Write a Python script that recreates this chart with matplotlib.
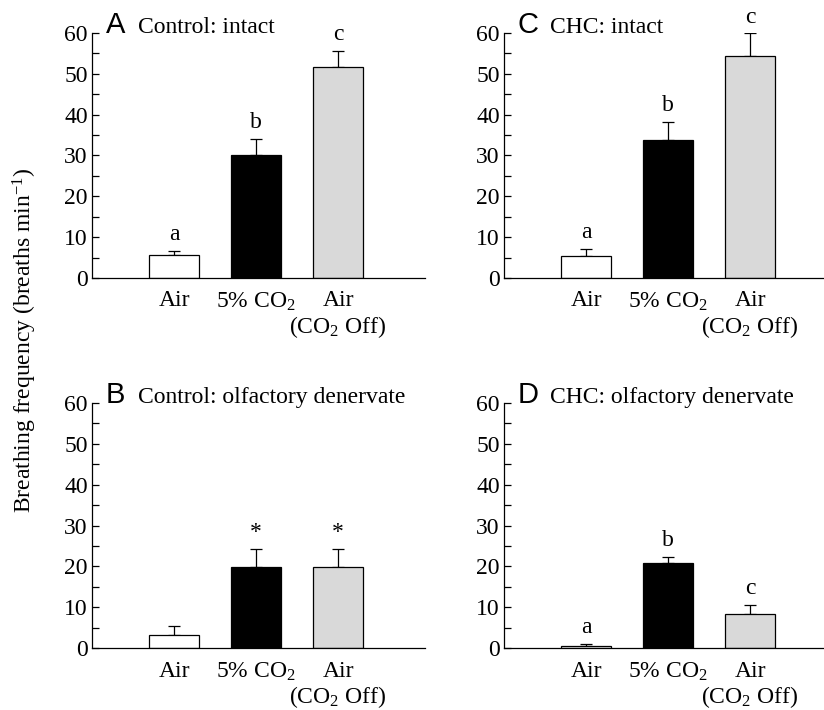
import numpy as np
import matplotlib
matplotlib.use('Agg')
import matplotlib.pyplot as plt

plt.rcParams['font.family'] = ['Liberation Serif', 'DejaVu Serif']
plt.rcParams['mathtext.fontset'] = 'custom'
plt.rcParams['mathtext.rm'] = 'Liberation Serif'
plt.rcParams['mathtext.it'] = 'Liberation Serif:italic'

##conditions on the x axis
conditions = ['Air', '5% CO$_2$', 'Air\n(CO$_2$ Off)']
bar_colors = ['white', 'black', '#d9d9d9']

##mean breathing frequency and SEM (upper only) per panel
a_mean = [5.7, 30.1, 51.7]
a_err = [1.0, 4.0, 4.0]
a_marks = ['a', 'b', 'c']

b_mean = [3.3, 19.9, 19.9]
b_err = [2.0, 4.4, 4.4]
b_marks = ['', '*', '*']

c_mean = [5.4, 33.7, 54.3]
c_err = [1.7, 4.6, 5.6]
c_marks = ['a', 'b', 'c']

d_mean = [0.6, 20.8, 8.4]
d_err = [0.4, 1.6, 2.2]
d_marks = ['a', 'b', 'c']

panels = [
    ('A', 'Control: intact', a_mean, a_err, a_marks, [0.1117, 0.6085, 0.404, 0.345]),
    ('B', 'Control: olfactory denervate', b_mean, b_err, b_marks, [0.1117, 0.0873, 0.404, 0.345]),
    ('C', 'CHC: intact', c_mean, c_err, c_marks, [0.6117, 0.6085, 0.404, 0.345]),
    ('D', 'CHC: olfactory denervate', d_mean, d_err, d_marks, [0.6117, 0.0873, 0.404, 0.345]),
]

fig = plt.figure(figsize=(8.24, 7.1), dpi=100)

for letter, title, mean, err, marks, pos in panels:
    ax = fig.add_axes(pos)
    x = np.arange(1, len(mean) + 1)
    ax.bar(x, mean, width=0.6, color=bar_colors, edgecolor='black', linewidth=0.9, zorder=2)
    ax.errorbar(x, mean, yerr=[np.zeros(len(err)), err], fmt='none', ecolor='black',
                elinewidth=0.9, capsize=4.3, capthick=0.9, zorder=1)
    for xi, m, e, s in zip(x, mean, err, marks):
        if s:
            ax.annotate(s, (xi, m + e), xytext=(0, 4), textcoords='offset points',
                        ha='center', va='bottom', fontsize=17)
    ax.set_xlim(0, 4.06)
    ax.set_ylim(0, 60)
    ax.set_yticks(np.arange(0, 61, 10))
    ax.set_yticks(np.arange(5, 60, 10), minor=True)
    ax.set_xticks(x)
    ax.set_xticklabels(conditions, fontsize=17, linespacing=1.15)
    ax.tick_params(axis='x', length=0, pad=9)
    ax.tick_params(axis='y', which='both', direction='in', length=5, width=0.9, pad=3, labelsize=17)
    for sp in ['top', 'right']:
        ax.spines[sp].set_visible(False)
    ax.spines['left'].set_linewidth(0.9)
    ax.spines['bottom'].set_linewidth(0.9)
    ax.annotate(letter, (0, 60), xytext=(10, 0), textcoords='offset points', ha='left',
                va='baseline', fontsize=21, family='Liberation Sans', annotation_clip=False)
    ax.annotate(title, (0, 60), xytext=(33, 0), textcoords='offset points', ha='left',
                va='baseline', fontsize=17, annotation_clip=False)

fig.text(0.03, 0.521, 'Breathing frequency (breaths min$^{-1}$)', rotation=90,
         ha='center', va='center', fontsize=17)

plt.savefig('out.png', dpi=100)
